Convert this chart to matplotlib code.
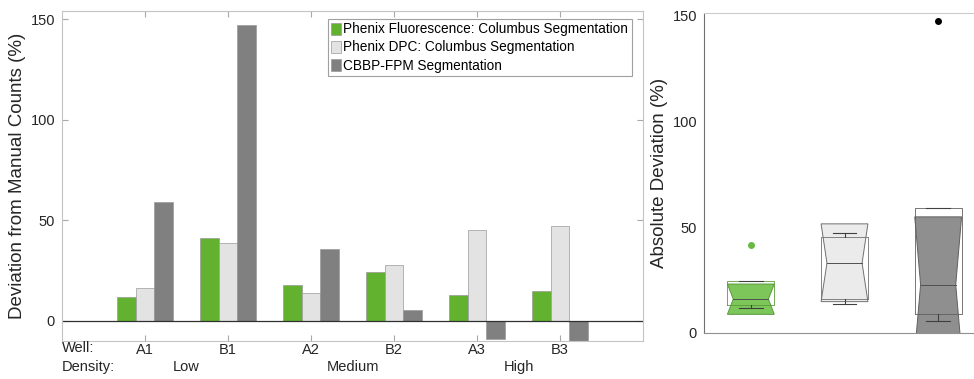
import numpy as np
import matplotlib
matplotlib.use('Agg')
import matplotlib.pyplot as plt

plt.rcParams['font.family'] = ['Liberation Sans', 'DejaVu Sans']

# bar data (% deviation from manual counts)
wells = ['A1', 'B1', 'A2', 'B2', 'A3', 'B3']
densities = ['Low', 'Medium', 'High']
series_names = ['Phenix Fluorescence: Columbus Segmentation',
                'Phenix DPC: Columbus Segmentation',
                'CBBP-FPM Segmentation']
fluor = [12, 41.4, 18, 24.4, 13, 14.7]
dpc = [16.3, 38.7, 13.8, 27.7, 45.3, 47.1]
cbbp = [59, 147, 35.7, 5.6, -9.1, -10]

# box plot stats (absolute deviation)
box_med = [16.0, 33.0, 22.8]
box_q1 = [13.2, 16.2, 9.0]
box_q3 = [24.3, 45.2, 58.9]
box_cilo = [8.8, 14.8, -9.0]
box_cihi = [23.1, 51.5, 54.8]
box_whislo = [11.7, 13.7, 5.6]
box_whishi = [24.3, 47.1, 58.9]
box_fliers = [[41.4], [], [147]]

bar_colors = ['#62b22f', '#e3e3e3', '#808080']
box_face = ['#7cc65a', '#ebebeb', '#8f8f8f']
box_edge = ['#5a9a3a', '#707070', '#606060']
flier_colors = ['#66bb44', 'k', 'k']

fig = plt.figure(figsize=(9.74, 3.79), dpi=100)

# ---- left: grouped bars ----
ax = fig.add_axes([0.0637, 0.1003, 0.5965, 0.8707])
x = np.arange(1, len(wells) + 1)
w = 0.225
for i, (vals, name) in enumerate(zip([fluor, dpc, cbbp], series_names)):
    ax.bar(x + (i - 1) * w, vals, width=w, color=bar_colors[i],
           edgecolor='#9a9a9a', linewidth=0.5, label=name)
ax.axhline(0, color='#303030', linewidth=0.9)
ax.set_xlim(0, 7)
ax.set_ylim(-10, 154)
ax.set_yticks([0, 50, 100, 150])
ax.set_xticks(x)
ax.set_xticklabels(wells)
ax.tick_params(direction='in', length=4, color='#a8a8a8', labelcolor='#262626',
               labelsize=10.5, top=True, right=True, width=0.8)
ax.tick_params(axis='x', pad=1.5)
ax.tick_params(axis='y', pad=5)
for s in ax.spines.values():
    s.set_color('#c4c4c4')
ax.set_ylabel('Deviation from Manual Counts (%)', fontsize=13.5, color='#262626', labelpad=3)

trans = ax.get_xaxis_transform()
ax.text(0.0, -0.022, 'Well:', transform=trans, ha='left', va='center', fontsize=10.5, color='#262626')
ax.text(0.0, -0.08, 'Density:', transform=trans, ha='left', va='center', fontsize=10.5, color='#262626')
for j, d in enumerate(densities):
    ax.text(x[2 * j:2 * j + 2].mean(), -0.08, d, transform=trans, ha='center', va='center',
            fontsize=10.5, color='#262626')

leg = ax.legend(loc='upper right', bbox_to_anchor=(0.9806, 0.9758), borderaxespad=0,
                fontsize=9.8, handlelength=0.75, handleheight=0.95, handletextpad=0.15,
                labelspacing=0.3, borderpad=0.25, fancybox=False, framealpha=1)
leg.get_frame().set_edgecolor('#a0a0a0')
leg.get_frame().set_linewidth(0.8)

# ---- right: notched box plots ----
ax2 = fig.add_axes([0.7228, 0.1214, 0.2885, 0.8443])
bw = 0.5
notch = 0.75
cap = 0.25
for k in range(3):
    p = k + 1
    L, R = p - bw / 2, p + bw / 2
    nl, nr = p - notch * bw / 2, p + notch * bw / 2
    ax2.fill([L, R, nr, R, L, nl], [box_cilo[k], box_cilo[k], box_med[k], box_cihi[k], box_cihi[k], box_med[k]],
             facecolor=box_face[k], edgecolor=box_edge[k], linewidth=0.7)
    ax2.plot([L, R, R, L, L], [box_q1[k], box_q1[k], box_q3[k], box_q3[k], box_q1[k]],
             color=box_edge[k], linewidth=0.6)
    ax2.plot([nl, nr], [box_med[k], box_med[k]], color='#505050', linewidth=0.7)
    ax2.plot([p, p], [box_q1[k], box_whislo[k]], color='#404040', linewidth=0.8)
    ax2.plot([p - cap / 2, p + cap / 2], [box_whislo[k], box_whislo[k]], color='#404040', linewidth=0.8)
    ax2.plot([p, p], [box_q3[k], box_whishi[k]], color='#404040', linewidth=0.8)
    ax2.plot([p - cap / 2, p + cap / 2], [box_whishi[k], box_whishi[k]], color='#404040', linewidth=0.8)
    if box_fliers[k]:
        ax2.plot([p] * len(box_fliers[k]), box_fliers[k], 'o', color=flier_colors[k], markersize=4)

ax2.set_xlim(0.5, 3.5)
ax2.set_ylim(0, 151)
ax2.set_yticks([0, 50, 100, 150])
ax2.set_xticks([])
ax2.tick_params(axis='y', length=0, labelsize=10.5, labelcolor='#262626', pad=5)
ax2.spines['left'].set_color('#707070')
ax2.spines['bottom'].set_color('#909090')
ax2.spines['top'].set_color('#cccccc')
ax2.spines['right'].set_visible(False)
ax2.set_ylabel('Absolute Deviation (%)', fontsize=13.5, color='#262626', labelpad=3)

fig.savefig('out.png', dpi=100)
